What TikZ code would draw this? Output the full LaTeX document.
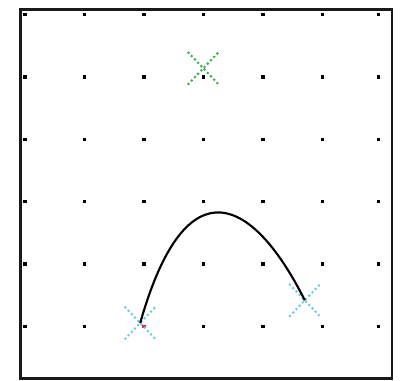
\documentclass[tikz,border=0pt]{standalone}
\usetikzlibrary{shapes.misc}
\definecolor{handlecyan}{RGB}{102,204,221}
\definecolor{ctrlgreen}{RGB}{48,172,72}
\definecolor{anchorred}{RGB}{235,32,36}
\tikzset{
  griddot/.style={rectangle,fill=black,inner sep=0pt,minimum size=2.6pt},
  xmark/.style={cross out,line width=1.5pt,dash pattern=on 1.5pt off 2pt,
    inner sep=0pt,minimum width=21.8pt,minimum height=23pt},
  handle/.style={xmark,draw=handlecyan},
  ctrlmark/.style={xmark,draw=ctrlgreen},
}
\begin{document}
\begin{tikzpicture}[x=0.75pt,y=-0.75pt]
\path[use as bounding box] (0,0) rectangle (401,381);
\draw[line width=1.9pt,black!90] (20.5,9.5) rectangle (392,378.5);
\foreach \gx [count=\i] in {25,84.3,144,203.3,263,322.3,378.3}
  \foreach \gy [count=\j] in {14.3,77,139.3,201.7,264,326.7}
    \node[griddot] (dot\i\j) at (\gx,\gy) {};
\node[griddot,fill=anchorred] (pin) at (dot36) {};
\node[ctrlmark] (ctrl) at (203.3,68.3) {};
\node[handle] (start) at (140.2,323) {};
\node[handle] (end) at (304.8,300.3) {};
\draw[line width=1.6pt] (start.center) .. controls (186.8,159) and (254.5,200) .. (end.center);
\end{tikzpicture}
\end{document}
